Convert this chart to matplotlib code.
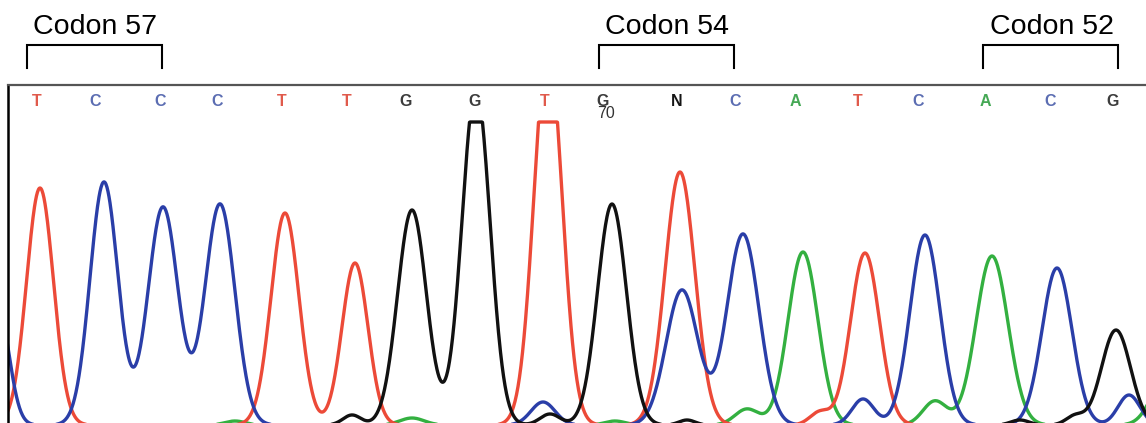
import numpy as np
import matplotlib.pyplot as plt

# called bases and their scan positions
bases = ['T', 'C', 'C', 'C', 'T', 'T', 'G', 'G', 'T', 'G', 'N', 'C', 'A', 'T', 'C', 'A', 'C', 'G']
base_pos = [37, 95, 160, 217, 282, 347, 406, 475, 545, 603, 677, 735, 795, 858, 918, 985, 1050, 1113]

# peaks of each dye channel: scan position, height, width
a_pos = [235, 412, 615, 747, 803, 935, 992, 1165]
a_height = [4, 7, 4, 16, 173, 24, 169, 45]
a_width = [10, 12, 10, 12, 15, 12, 16, 14]

t_pos = [40, 285, 355, 548, 680, 820, 865]
t_height = [237, 212, 162, 381, 253, 13, 172]
t_width = [13.5, 14, 13, 14, 15, 10, 14.5]

c_pos = [-2, 104, 163, 220, 543, 682, 743, 863, 925, 1057, 1129]
c_height = [117, 243, 218, 221, 23, 135, 191, 26, 190, 157, 30]
c_width = [11, 14, 15, 15, 12, 16, 16, 11, 15, 15, 11]

g_pos = [352, 412, 476, 550, 612, 687, 1020, 1075, 1116]
g_height = [10, 215, 337, 11, 221, 5, 5, 9, 95]
g_width = [9, 14.5, 14, 10, 14.5, 8, 9, 9, 14.5]

codons = ['Codon 57', 'Codon 54', 'Codon 52']
codon_left = [27, 599, 983]
codon_right = [162, 734, 1118]

detector_max = 303

base_colors = {'A': '#45a855', 'C': '#5b6db2', 'G': '#3c3c3c', 'T': '#e05a4c', 'N': '#151515'}


def trace(pos, height, width, x):
    y = np.zeros_like(x)
    for c, h, s in zip(pos, height, width):
        y += h * np.exp(-(x - c) ** 2 / (2.0 * s ** 2))
    return np.minimum(y, detector_max)


x = np.arange(0, 1147, 0.5)

fig = plt.figure(figsize=(11.46, 4.23), dpi=100)
ax = fig.add_axes([8 / 1146, 0, 1 - 8 / 1146, 338 / 423])
ax.set_xlim(8, 1146)
ax.set_ylim(2, 340)

ax.plot(x, trace(a_pos, a_height, a_width, x), color='#33b040', lw=2.4)
ax.plot(x, trace(t_pos, t_height, t_width, x), color='#ec4a38', lw=2.4)
ax.plot(x, trace(c_pos, c_height, c_width, x), color='#2a3ea8', lw=2.4)
ax.plot(x, trace(g_pos, g_height, g_width, x), color='#111111', lw=2.4)

for b, p in zip(bases, base_pos):
    ax.text(p, 324, b, color=base_colors[b], fontsize=11.5, fontweight='bold',
            ha='center', va='center', family='Liberation Sans')
ax.text(606, 311, '70', color='#333333', fontsize=11.5, ha='center', va='center',
        family='Liberation Sans')

# codon brackets above the trace
for name, l, r in zip(codons, codon_left, codon_right):
    ax.plot([l, l, r, r], [357, 380, 380, 357], color='black', lw=1.5,
            clip_on=False, solid_joinstyle='miter')
    ax.text((l + r) / 2 + 1, 398, name, fontsize=20.5, ha='center', va='center',
            family='Liberation Sans', clip_on=False)

ax.set_xticks([])
ax.set_yticks([])
ax.spines['right'].set_visible(False)
ax.spines['bottom'].set_visible(False)
ax.spines['top'].set_color('#555555')
ax.spines['top'].set_linewidth(1.6)
ax.spines['left'].set_color('black')
ax.spines['left'].set_linewidth(1.8)

fig.savefig('out.png', dpi=100)
